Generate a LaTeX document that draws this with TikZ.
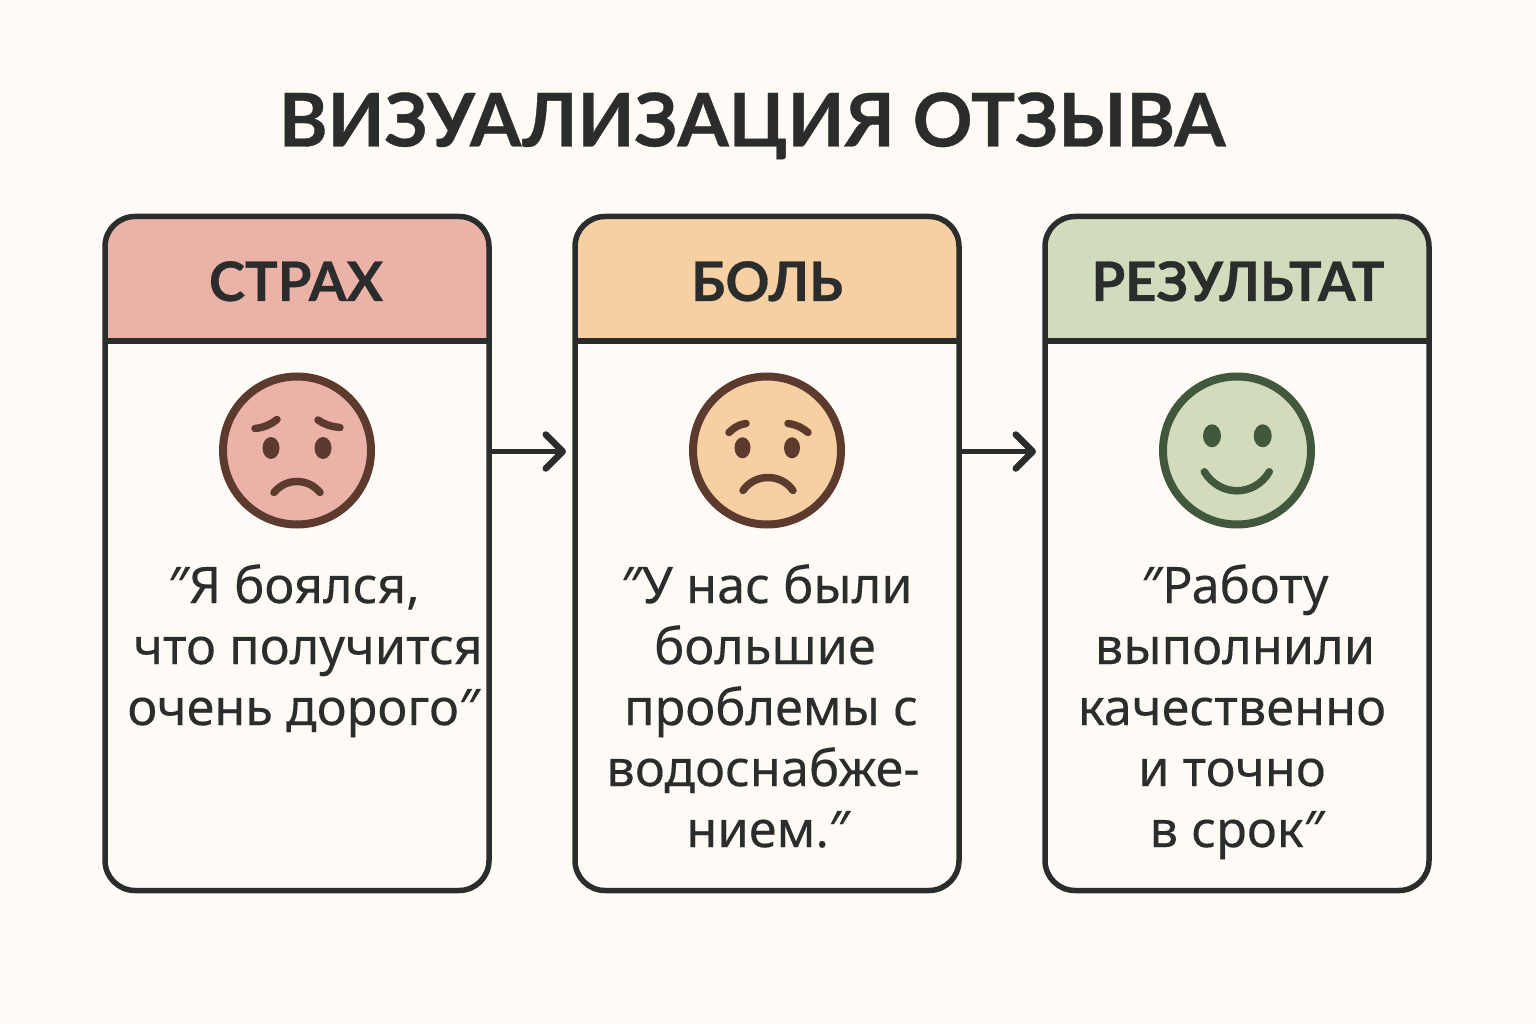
\documentclass[tikz,border=0pt]{standalone}
\usepackage{fontspec}
\setmainfont{Noto Sans}[FakeBold=0.2]
\newfontfamily\hdfont{Lato}[BoldFeatures={FakeBold=0.5}]
\definecolor{bgc}{HTML}{FEFBF7}
\definecolor{linec}{HTML}{2B2D2D}
\definecolor{redc}{HTML}{EBB2A8}
\definecolor{orgc}{HTML}{F6CFA2}
\definecolor{grnc}{HTML}{D2DCBC}
\definecolor{brownc}{HTML}{5C3B2E}
\definecolor{dgrn}{HTML}{41583C}
\newcommand{\off}[1]{\hspace*{#1pt}}
\usetikzlibrary{arrows.meta}
\tikzset{
  card/.style={draw=linec,line width=5.5pt,rounded corners=30pt,minimum width=384pt,minimum height=674pt,inner sep=0pt,outer sep=0pt,anchor=north west},
  head/.style={font=\hdfont\fontsize{54.5}{54.5}\selectfont\bfseries,text=linec,anchor=base},
  quote/.style={font=\fontsize{50.5}{61}\selectfont,text=linec,align=center,anchor=north,inner sep=0pt},
  face/.style={circle,line width=8pt,minimum size=148pt,inner sep=0pt,outer sep=0pt},
  feat/.style={line width=7.5pt,line cap=round},
  conn/.style={draw=linec,line width=5.5pt,-{Straight Barb[length=17pt,width=34pt,line width=6.5pt,round]},shorten >=9pt},
}
\begin{document}
\begin{tikzpicture}[x=1pt,y=-1pt]
\useasboundingbox[fill=bgc] (0,0) rectangle (1536,1024);
\node[anchor=base,font=\hdfont\fontsize{74}{74}\selectfont\bfseries,text=linec] (title) at (752,146.5) {ВИЗУАЛИЗАЦИЯ ОТЗЫВА};
% cards
\foreach \nm/\xx/\col in {c1/105/redc,c2/575/orgc,c3/1045/grnc}{
  \begin{scope}
    \clip[rounded corners=30pt] (\xx,216.5) rectangle ++(384,674);
    \fill[\col] (\xx,216.5) rectangle ++(384,125);
  \end{scope}
  \node[card] (\nm) at (\xx,216.5) {};
  \draw[draw=linec,line width=5.5pt] (\xx,341) -- ++(384,0);
}
\node[head] (h1) at (296,301) {СТРАХ};
\node[head] (h2) at (767,301) {БОЛЬ};
\node[head] (h3) at (1238,301) {РЕЗУЛЬТАТ};
% faces
\node[face,draw=brownc,fill=redc] (f1) at (297,450.5) {};
\node[face,draw=brownc,fill=orgc] (f2) at (767,450.5) {};
\node[face,draw=dgrn,fill=grnc] (f3) at (1237,450.5) {};
% face 1
\begin{scope}[shift={(f1.center)}]
\draw[feat,brownc] (-42,-22) .. controls (-33,-23) and (-26,-26) .. (-20,-31);
\draw[feat,brownc] (43,-23) .. controls (34,-24) and (27,-26) .. (21,-30.5);
\fill[brownc] (-26,-2.5) ellipse (8.5pt and 11pt);
\fill[brownc] (26,-2.5) ellipse (8.5pt and 11pt);
\draw[feat,brownc] (-23,42) .. controls (-11,27.3) and (11,27.3) .. (23,42);
\end{scope}
% face 2
\begin{scope}[shift={(f2.center)}]
\draw[feat,brownc] (-38,-18) .. controls (-33,-23) and (-28,-26) .. (-21,-27);
\draw[feat,brownc] (41,-18) .. controls (35,-23) and (29,-26) .. (21,-27);
\fill[brownc] (-24.5,-2.7) ellipse (8pt and 10.5pt);
\fill[brownc] (25,-2.7) ellipse (8pt and 10.5pt);
\draw[feat,brownc] (-24,40) .. controls (-12,22.7) and (14,22.7) .. (26,40);
\end{scope}
% face 3
\begin{scope}[shift={(f3.center)}]
\fill[dgrn] (-25,-14.7) ellipse (9pt and 11.5pt);
\fill[dgrn] (25.7,-14.7) ellipse (9pt and 11.5pt);
\draw[feat,dgrn] (-32.7,21.3) .. controls (-17,46.6) and (17,46.6) .. (32.3,21.3);
\end{scope}
% connectors
\draw[conn] ([yshift=-1pt]c1.east |- f1.center) -- ([yshift=-1pt]c2.west |- f1.center);
\draw[conn] ([yshift=-1pt]c2.east |- f2.center) -- ([yshift=-1pt]c3.west |- f2.center);
% quotes
\node[quote] (q1) at (297,564) {\off{-6}″Я боялся,\\\off{22}что получится\\\off{13}очень дорого″};
\node[quote] (q2) at (767,564) {″У нас были\\\off{-4}большие\\\off{8}проблемы с\\\off{-8}водоснабже-\\\off{2}нием.″};
\node[quote] (q3) at (1235,564) {″Работу\\выполнили\\\off{-6}качественно\\\off{-6}и точно\\\off{4}в срок″};
\end{tikzpicture}
\end{document}
